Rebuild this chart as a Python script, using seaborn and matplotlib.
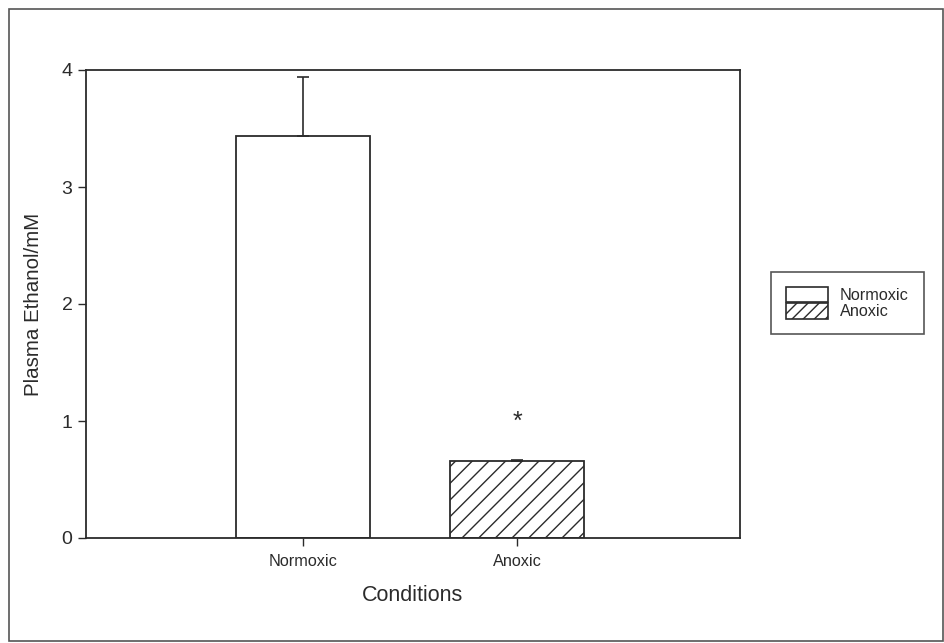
import matplotlib
matplotlib.use("Agg")
import matplotlib.pyplot as plt
import matplotlib.patches as mpatches
import seaborn as sns
import pandas as pd

conditions = ["Normoxic", "Anoxic"]
ethanol_mean = [3.44, 0.66]
ethanol_sem = [0.50, 0.01]
y_ticks = [0, 1, 2, 3, 4]

sns.set_theme(style="white")
plt.rcParams["font.family"] = ["Liberation Sans", "DejaVu Sans"]
plt.rcParams["hatch.linewidth"] = 1.0

ink = "#2b2b2b"
df = pd.DataFrame({"Condition": conditions, "Ethanol": ethanol_mean})

fig = plt.figure(figsize=(9.45, 6.43), dpi=100)
ax = fig.add_axes([86 / 945, 1 - 538 / 643, (740 - 86) / 945, (538 - 70) / 643])

sns.barplot(data=df, x="Condition", y="Ethanol", hue="Condition",
            order=conditions, hue_order=conditions,
            palette=["white", "white"], edgecolor=ink, linewidth=1.3,
            width=0.63, errorbar=None, legend=False, ax=ax)

bars = list(ax.patches)
bars[1].set_hatch("//")

# one-sided (upper) error bars
ax.errorbar(range(len(conditions)), ethanol_mean,
            yerr=[[0] * len(ethanol_sem), ethanol_sem],
            fmt="none", ecolor=ink, elinewidth=1.2, capsize=4.3, capthick=1.2)

# significance marker above the anoxic bar
ax.text(1, ethanol_mean[1] + 0.33, "*", ha="center", va="center",
        fontsize=18, color=ink)

ax.set_xlim(-1.014, 2.042)
ax.set_ylim(0, 4)
ax.set_yticks(y_ticks)
ax.set_yticklabels([str(t) for t in y_ticks])

for side in ["left", "right", "top", "bottom"]:
    ax.spines[side].set_visible(True)
    ax.spines[side].set_color(ink)
    ax.spines[side].set_linewidth(1.3)

ax.tick_params(axis="y", direction="out", length=5.8, width=1.0, color=ink,
               labelsize=14, labelcolor=ink, pad=4, left=True)
ax.tick_params(axis="x", direction="out", length=5.8, width=1.0, color=ink,
               labelsize=11.7, labelcolor=ink, pad=6, bottom=True)

ax.set_ylabel("Plasma Ethanol/mM", fontsize=14.8, color=ink)
ax.set_xlabel("Conditions", fontsize=15.5, color=ink)
ax.yaxis.set_label_coords(-0.066, 0.5)
ax.xaxis.set_label_coords(0.5, -0.100)

handles = [mpatches.Patch(facecolor="white", edgecolor=ink, linewidth=1.2),
           mpatches.Patch(facecolor="white", edgecolor=ink, linewidth=1.2, hatch="///")]
leg = ax.legend(handles, conditions, loc="upper left",
                bbox_to_anchor=(771 / 945, 1 - 272 / 643),
                bbox_transform=fig.transFigure, borderaxespad=0,
                fontsize=11.7, frameon=True, fancybox=False,
                handlelength=2.6, handleheight=1.1, labelspacing=0.0,
                handletextpad=0.75, borderpad=0.9)
leg.get_frame().set_edgecolor(ink)
leg.get_frame().set_linewidth(1.2)
for t in leg.get_texts():
    t.set_color(ink)

# outer frame around the whole figure
frame = mpatches.Rectangle((9 / 945, 2 / 643), (943 - 9) / 945, (641 - 9) / 643,
                           transform=fig.transFigure, fill=False,
                           edgecolor="#555555", linewidth=1.2)
fig.patches.append(frame)

fig.savefig("out.png", dpi=100, facecolor="white")
